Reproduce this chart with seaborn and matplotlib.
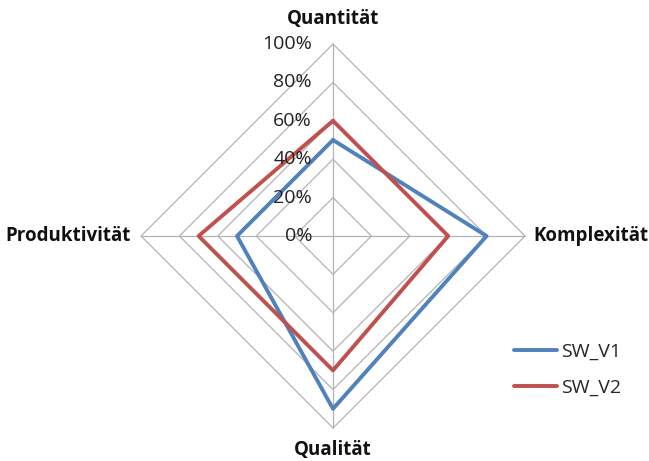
import numpy as np
import pandas as pd
import matplotlib
matplotlib.use("Agg")
import matplotlib.pyplot as plt
import seaborn as sns
from matplotlib.lines import Line2D

categories = ["Quantität", "Komplexität", "Qualität", "Produktivität"]
series_names = ["SW_V1", "SW_V2"]
sw_v1 = [0.50, 0.80, 0.90, 0.50]
sw_v2 = [0.60, 0.60, 0.70, 0.70]
tick_values = [0.0, 0.2, 0.4, 0.6, 0.8, 1.0]
tick_labels = ["0%", "20%", "40%", "60%", "80%", "100%"]
colors = {"SW_V1": "#4F81BD", "SW_V2": "#C0504D"}

sns.set_style("white")
plt.rcParams["font.family"] = ["Open Sans", "DejaVu Sans"]

n = len(categories)
angles = [2 * np.pi * i / n for i in range(n)]
closed_angles = angles + [2 * np.pi]

rows = []
for name, vals in zip(series_names, [sw_v1, sw_v2]):
    cvals = list(vals) + [vals[0]]
    for order, (t, v) in enumerate(zip(closed_angles, cvals)):
        rows.append({"series": name, "theta": t, "value": v, "order": order})
df = pd.DataFrame(rows)

W, H = 649, 461
fig = plt.figure(figsize=(W / 100, H / 100), dpi=100)
cx, cy, R = 333, 236, 192
ax = fig.add_axes([(cx - R) / W, (H - cy - R) / H, 2 * R / W, 2 * R / H], projection="polar")
ax.set_theta_zero_location("N")
ax.set_theta_direction(-1)
ax.set_ylim(0, 1.0)
ax.spines["polar"].set_visible(False)
ax.grid(False)
ax.set_xticks([])
ax.set_yticks([])

grid_color = "#B3B3B3"
# diamond gridlines
for r in tick_values[1:]:
    ax.plot(closed_angles, [r] * len(closed_angles), color=grid_color, lw=0.9, clip_on=False, zorder=1)
# spokes
for t in angles:
    ax.plot([t, t], [0, 1.0], color=grid_color, lw=0.9, clip_on=False, zorder=1)

sns.lineplot(data=df, x="theta", y="value", hue="series", units="series", estimator=None,
             sort=False, palette=colors, linewidth=2.8, ax=ax, legend=False, zorder=3)
for ln in ax.lines:
    ln.set_clip_on(False)
ax.set_xlabel("")
ax.set_ylabel("")
ax.set_ylim(0, 1.0)

# radial labels
for v, lab in zip(tick_values, tick_labels):
    ax.annotate(lab, xy=(0, v), xytext=(-21, 0), textcoords="offset pixels",
                ha="right", va="center", fontsize=14, color="#222222")

# category labels
offsets = [((0, 25), "center", "center"), ((8, 0), "left", "center"),
           ((0, -22), "center", "center"), ((-10, 0), "right", "center")]
for t, cat, (off, ha, va) in zip(angles, categories, offsets):
    ax.annotate(cat, xy=(t, 1.0), xytext=off, textcoords="offset pixels",
                ha=ha, va=va, fontsize=13.5, fontweight="bold", color="#111111")

handles = [Line2D([0], [0], color=colors[s], lw=2.8) for s in series_names]
fig.legend(handles, series_names, loc="center left", bbox_to_anchor=(496 / W, 1 - 370 / H),
           frameon=False, fontsize=14, handlelength=2.25, handletextpad=0.2, labelspacing=0.95)

fig.savefig("out.png", dpi=100)
